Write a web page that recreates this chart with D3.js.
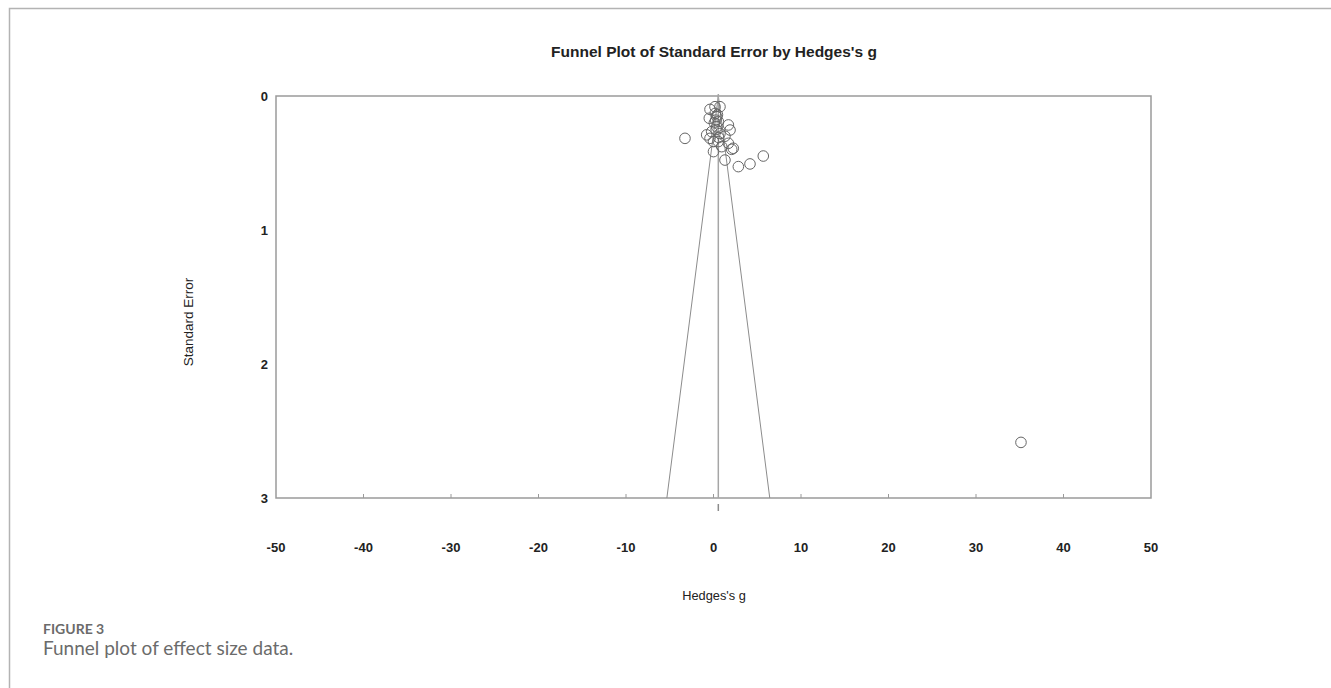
<!DOCTYPE html>
<html>
<head>
<meta charset="utf-8">
<script src="https://cdn.jsdelivr.net/npm/d3@7"></script>
<style>
  html, body { margin: 0; padding: 0; background: #fff; }
  svg { display: block; }
</style>
</head>
<body>
<svg id="chart"></svg>
<script>
// study effects
const hedgesG = [
  -3.26, 0.17, 0.74, -0.40, -0.48, 0.36, 0.55, 0.36, 1.70, 1.89,
  -0.78, -0.21, 0.74, 1.31, 0.00, -0.40, 0.55, 1.70, 2.26, 0.94,
  0.00, 1.31, 2.84, 4.17, 5.69, 2.08, 0.20, 0.45, 0.10, 0.30,
  0.60, 0.25, 35.14
]
const stdErr = [
  0.316, 0.080, 0.080, 0.100, 0.166, 0.154, 0.190, 0.230, 0.216, 0.254,
  0.290, 0.266, 0.280, 0.300, 0.340, 0.316, 0.340, 0.353, 0.390, 0.378,
  0.415, 0.478, 0.527, 0.507, 0.448, 0.398, 0.130, 0.140, 0.200, 0.250,
  0.310, 0.180, 2.585
]
const meanEffect = 0.55
const xTicks = [-50, -40, -30, -20, -10, 0, 10, 20, 30, 40, 50]
const yTicks = [0, 1, 2, 3]

const W = 1331, H = 688
const plot = { left: 276, right: 1151, top: 96, bottom: 498 }

const svg = d3.select('#chart')
  .attr('width', W)
  .attr('height', H)

// page frame
svg.append('path')
  .attr('d', `M9.5,${H} V8.5 H${W}`)
  .attr('fill', 'none')
  .attr('stroke', '#b3b3b3')
  .attr('stroke-width', 1.5)

const x = d3.scaleLinear().domain([-50, 50]).range([plot.left, plot.right])
const y = d3.scaleLinear().domain([0, 3]).range([plot.top, plot.bottom])

const axisColor = '#9a9a9a'
const font = '"Liberation Sans", Arial, sans-serif'

svg.append('text')
  .attr('x', 714).attr('y', 57)
  .attr('text-anchor', 'middle')
  .attr('font-family', font)
  .attr('font-size', 15.5)
  .attr('font-weight', 'bold')
  .attr('fill', '#222')
  .text("Funnel Plot of Standard Error by Hedges's g")

// plot box
svg.append('rect')
  .attr('x', plot.left).attr('y', plot.top)
  .attr('width', plot.right - plot.left)
  .attr('height', plot.bottom - plot.top)
  .attr('fill', 'none')
  .attr('stroke', axisColor)
  .attr('stroke-width', 1.5)

// x ticks (short, pointing into the plot)
svg.append('g').selectAll('line')
  .data(xTicks.slice(1, -1))
  .join('line')
  .attr('x1', (d) => x(d)).attr('x2', (d) => x(d))
  .attr('y1', plot.bottom).attr('y2', plot.bottom - 4)
  .attr('stroke', axisColor)

svg.append('g').selectAll('text')
  .data(xTicks)
  .join('text')
  .attr('x', (d) => x(d))
  .attr('y', 552)
  .attr('text-anchor', 'middle')
  .attr('font-family', font)
  .attr('font-size', 13)
  .attr('font-weight', 'bold')
  .attr('fill', '#222')
  .text((d) => d)

svg.append('g').selectAll('text')
  .data(yTicks)
  .join('text')
  .attr('x', 268)
  .attr('y', (d) => y(d) + 4.5)
  .attr('text-anchor', 'end')
  .attr('font-family', font)
  .attr('font-size', 13)
  .attr('font-weight', 'bold')
  .attr('fill', '#222')
  .text((d) => d)

svg.append('text')
  .attr('x', 714).attr('y', 600)
  .attr('text-anchor', 'middle')
  .attr('font-family', font)
  .attr('font-size', 12.8)
  .attr('fill', '#222')
  .text("Hedges's g")

svg.append('text')
  .attr('transform', 'translate(193,322) rotate(-90)')
  .attr('text-anchor', 'middle')
  .attr('font-family', font)
  .attr('font-size', 13.5)
  .attr('fill', '#222')
  .text('Standard Error')

// funnel (95% limits around the mean)
const se0 = 0, se1 = 3
const funnel = [
  [meanEffect - 1.96 * se1, se1],
  [meanEffect, se0],
  [meanEffect + 1.96 * se1, se1],
]
svg.append('path')
  .datum(funnel)
  .attr('d', d3.line().x((d) => x(d[0])).y((d) => y(d[1])))
  .attr('fill', 'none')
  .attr('stroke', '#8c8c8c')
  .attr('stroke-width', 1)

// mean line + marker under the axis
svg.append('line')
  .attr('x1', x(meanEffect)).attr('x2', x(meanEffect))
  .attr('y1', plot.top - 2).attr('y2', plot.bottom)
  .attr('stroke', '#a6a6a6')
  .attr('stroke-width', 1.5)
svg.append('line')
  .attr('x1', x(meanEffect)).attr('x2', x(meanEffect))
  .attr('y1', plot.bottom + 6).attr('y2', plot.bottom + 13)
  .attr('stroke', '#8c8c8c')
  .attr('stroke-width', 1.5)

const studies = hedgesG.map((g, i) => ({ g, se: stdErr[i] }))
svg.append('g').selectAll('circle')
  .data(studies)
  .join('circle')
  .attr('cx', (d) => x(d.g))
  .attr('cy', (d) => y(d.se))
  .attr('r', 5.3)
  .attr('fill', 'none')
  .attr('stroke', '#666')
  .attr('stroke-width', 1)

// caption
svg.append('text')
  .attr('x', 43).attr('y', 634)
  .attr('font-family', 'Lato, "Open Sans", sans-serif')
  .attr('font-size', 14)
  .attr('font-weight', 'bold')
  .attr('fill', '#6b6b6b')
  .text('FIGURE 3')
svg.append('text')
  .attr('x', 43).attr('y', 655)
  .attr('font-family', 'Lato, "Open Sans", sans-serif')
  .attr('font-size', 19)
  .attr('fill', '#6b6b6b')
  .text('Funnel plot of effect size data.')
</script>
</body>
</html>
